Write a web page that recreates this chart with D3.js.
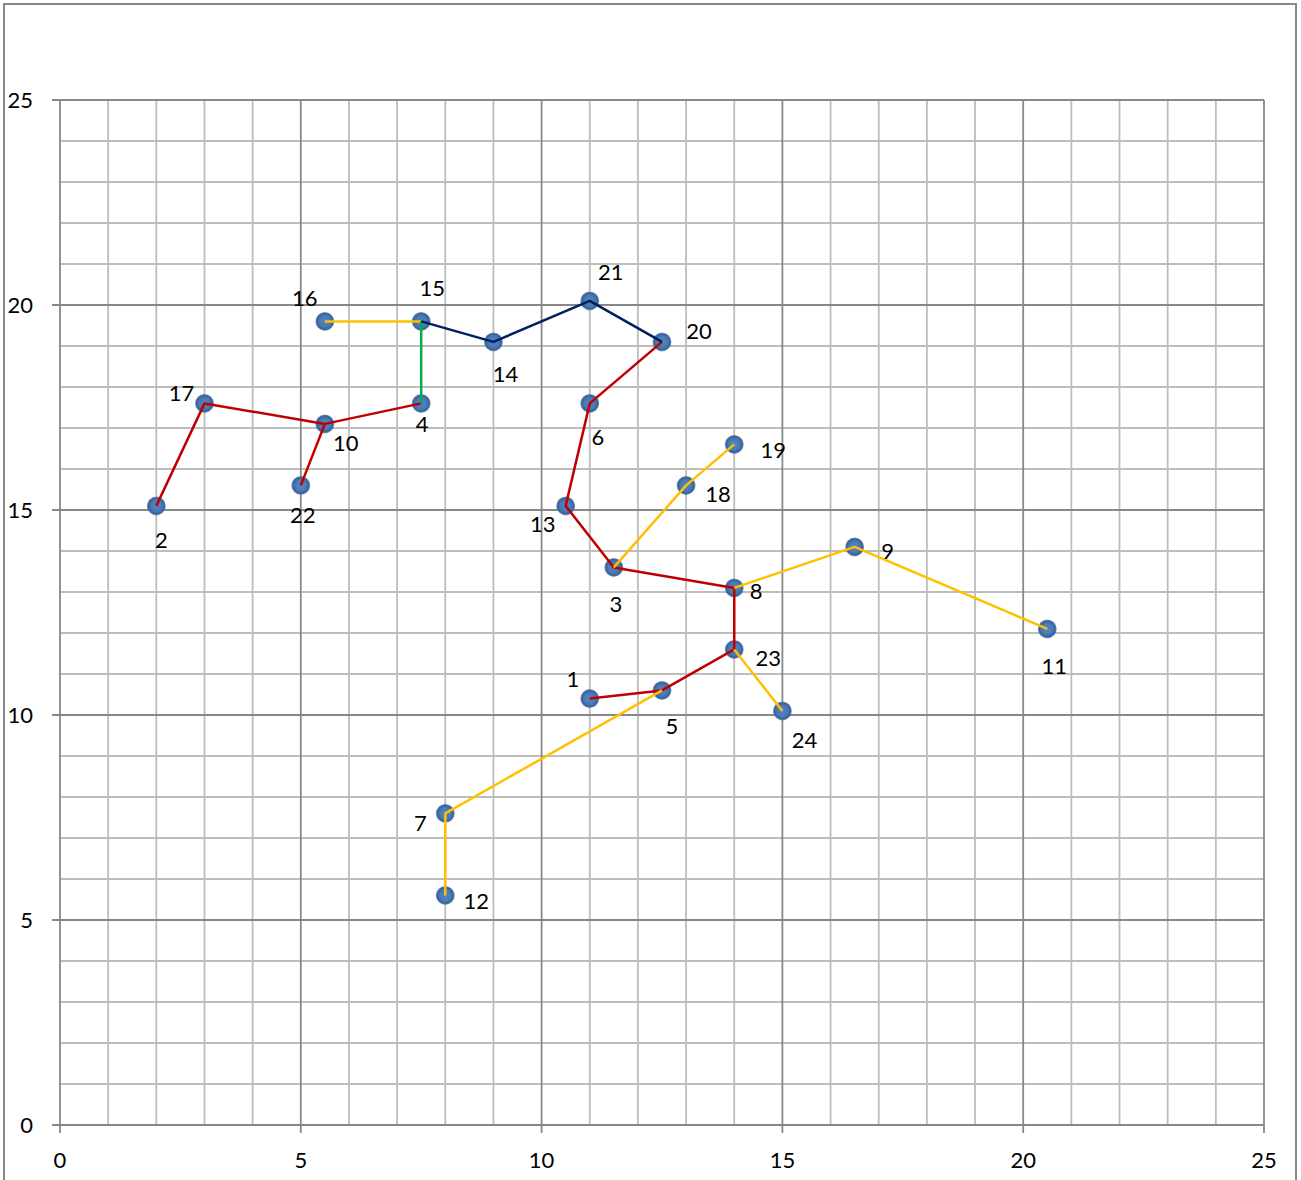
<!DOCTYPE html>
<html>
<head>
<meta charset="utf-8">
<script src="https://cdn.jsdelivr.net/npm/d3@7"></script>
<style>
  html, body { margin: 0; padding: 0; background: #fff; }
  svg { display: block; }
  text { font-family: Lato, "Open Sans", sans-serif; fill: #000; }
</style>
</head>
<body>
<svg id="chart" width="1301" height="1180"></svg>
<script>
// ---- data ----
const pointIds = [1,2,3,4,5,6,7,8,9,10,11,12,13,14,15,16,17,18,19,20,21,22,23,24];
const pointX   = [11,2,11.5,7.5,12.5,11,8,14,16.5,5.5,20.5,8,10.5,9,7.5,5.5,3,13,14,12.5,11,5,14,15];
const pointY   = [10.4,15.1,13.6,17.6,10.6,17.6,7.6,13.1,14.1,17.1,12.1,5.6,15.1,19.1,19.6,19.6,17.6,15.6,16.6,19.1,20.1,15.6,11.6,10.1];

// connecting paths (by point id)
const redPaths    = [[2,17,10,4],[10,22],[20,6,13,3,8,23,5,1]];
const yellowPaths = [[16,15],[3,18,19],[8,9,11],[23,24],[5,7,12]];
const greenPaths  = [[15,4]];
const navyPaths   = [[15,14,21,20]];

const xTicks = [0,5,10,15,20,25];
const yTicks = [0,5,10,15,20,25];

// label placement (pixel offsets from point centre; layout only)
const labelOffsets = {
  1:[-17,-19], 2:[5,34], 3:[2,37], 4:[1,21], 5:[10,36], 6:[8,34], 7:[-25,10],
  8:[22,3], 9:[33,4], 10:[21,19], 11:[7,37], 12:[31,6], 13:[-23,18], 14:[12,32],
  15:[11,-33], 16:[-20,-23], 17:[-23,-10], 18:[32,9], 19:[39,6], 20:[37,-11],
  21:[21,-29], 22:[2,30], 23:[34,9], 24:[22,29]
};

// ---- drawing ----
const svg = d3.select("#chart");
const x = d3.scaleLinear().domain([0,25]).range([60,1264]);
const y = d3.scaleLinear().domain([0,25]).range([1125,100]);

// outer frame
svg.append("rect").attr("x",4).attr("y",4).attr("width",1292).attr("height",1200)
  .attr("fill","none").attr("stroke","#878787").attr("stroke-width",2);

// grid
const minor = d3.range(0,26,1);
const g = svg.append("g");
g.selectAll(".vmin").data(minor.filter(d=>d%5!==0)).join("line")
  .attr("x1",d=>x(d)).attr("x2",d=>x(d)).attr("y1",y(0)).attr("y2",y(25))
  .attr("stroke","#bdbdbd").attr("stroke-width",1.8);
g.selectAll(".hmin").data(minor.filter(d=>d%5!==0)).join("line")
  .attr("y1",d=>y(d)).attr("y2",d=>y(d)).attr("x1",x(0)).attr("x2",x(25))
  .attr("stroke","#bdbdbd").attr("stroke-width",1.8);
g.selectAll(".vmaj").data(xTicks).join("line")
  .attr("x1",d=>x(d)).attr("x2",d=>x(d)).attr("y1",y(25)).attr("y2",y(0)+8)
  .attr("stroke","#888888").attr("stroke-width",1.8);
g.selectAll(".hmaj").data(yTicks).join("line")
  .attr("y1",d=>y(d)).attr("y2",d=>y(d)).attr("x1",x(0)-8).attr("x2",x(25))
  .attr("stroke","#888888").attr("stroke-width",1.8);

// tick labels
svg.selectAll(".ytl").data(yTicks).join("text")
  .attr("x",33).attr("y",d=>y(d)).attr("dy","0.35em")
  .attr("text-anchor","end").attr("font-size",22).text(d=>d);
svg.selectAll(".xtl").data(xTicks).join("text")
  .attr("x",d=>x(d)).attr("y",1160).attr("dy","0.35em")
  .attr("text-anchor","middle").attr("font-size",22).text(d=>d);

// markers
const defs = svg.append("defs");
const grad = defs.append("radialGradient").attr("id","mk").attr("cx","50%").attr("cy","50%").attr("r","50%");
grad.append("stop").attr("offset","0%").attr("stop-color","#5285c2");
grad.append("stop").attr("offset","55%").attr("stop-color","#4a7bb8");
grad.append("stop").attr("offset","85%").attr("stop-color","#3a6197");
grad.append("stop").attr("offset","100%").attr("stop-color","#4a72a6").attr("stop-opacity",0.6);

const pts = pointIds.map((id,i)=>({id, x:pointX[i], y:pointY[i]}));
const byId = {}; pts.forEach(p=>byId[p.id]=p);

svg.selectAll(".mk").data(pts).join("circle")
  .attr("cx",d=>x(d.x)).attr("cy",d=>y(d.y)).attr("r",9.5)
  .attr("fill","url(#mk)");

// lines
const line = d3.line().x(id=>x(byId[id].x)).y(id=>y(byId[id].y));
function drawPaths(paths, color){
  svg.append("g").selectAll("path").data(paths).join("path")
    .attr("d",line).attr("fill","none").attr("stroke",color).attr("stroke-width",2.5)
    .attr("stroke-linejoin","round");
}
drawPaths(redPaths,"#c00000");
drawPaths(yellowPaths,"#ffc000");
drawPaths(greenPaths,"#00b050");
drawPaths(navyPaths,"#002060");

// point labels
svg.selectAll(".pl").data(pts).join("text")
  .attr("x",d=>x(d.x)+labelOffsets[d.id][0]).attr("y",d=>y(d.y)+labelOffsets[d.id][1])
  .attr("dy","0.35em").attr("text-anchor","middle").attr("font-size",22).text(d=>d.id);
</script>
</body>
</html>
